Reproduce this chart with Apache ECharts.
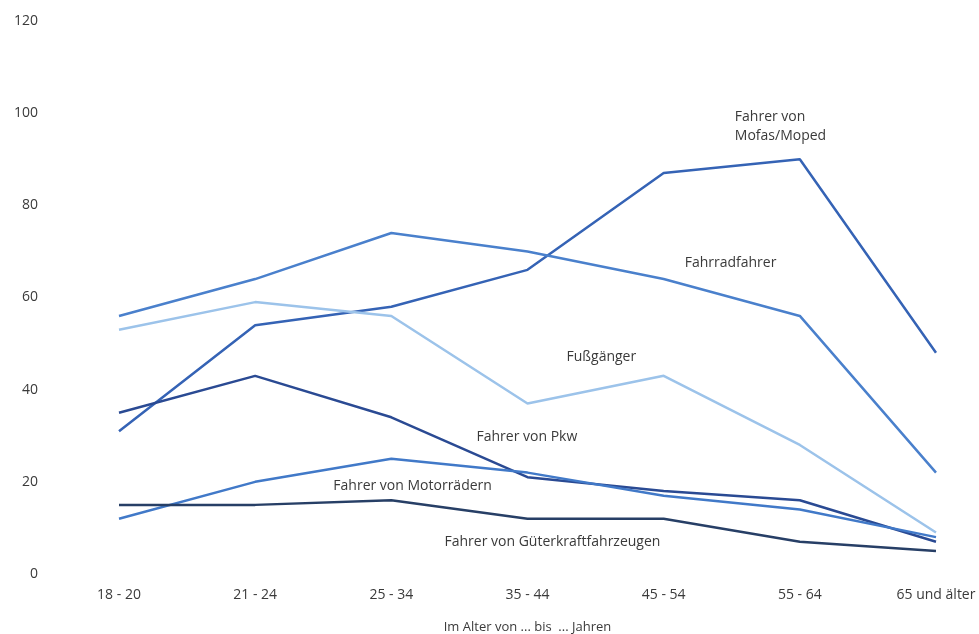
<!DOCTYPE html>
<html>
<head>
<meta charset="utf-8">
<script src="https://cdn.jsdelivr.net/npm/echarts@6/dist/echarts.min.js"></script>
<style>
  html, body { margin: 0; padding: 0; background: #fff; }
  #chart { width: 979px; height: 634px; }
</style>
</head>
<body>
<div id="chart"></div>
<script>
// Age groups on the x axis
const ageGroups = ['18 - 20', '21 - 24', '25 - 34', '35 - 44', '45 - 54', '55 - 64', '65 und älter'];
const xAxisTitle = 'Im Alter von ... bis  ... Jahren';

// Values per road-user group
const mofaMoped = [31, 54, 58, 66, 87, 90, 48];
const fahrrad = [56, 64, 74, 70, 64, 56, 22];
const fussgaenger = [53, 59, 56, 37, 43, 28, 9];
const pkw = [35, 43, 34, 21, 18, 16, 7];
const motorrad = [12, 20, 25, 22, 17, 14, 8];
const gueterkraft = [15, 15, 16, 12, 12, 7, 5];

const FONT = '"Open Sans", "Noto Sans", sans-serif';
const TEXT = '#3a3a3a';

// Series definitions with an inline name tag anchored in data space
const seriesDefs = [
  { name: 'Fahrer von\nMofas/Moped', data: mofaMoped, color: '#3563B5', tag: [5, 97, -65] },
  { name: 'Fahrradfahrer', data: fahrrad, color: '#4A80CC', tag: [4, 67.5, 21] },
  { name: 'Fußgänger', data: fussgaenger, color: '#9CC3EA', tag: [3, 47, 39] },
  { name: 'Fahrer von Pkw', data: pkw, color: '#2A4A93', tag: [3, 29.7, -51] },
  { name: 'Fahrer von Motorrädern', data: motorrad, color: '#4179C8', tag: [2, 19.1, -58] },
  { name: 'Fahrer von Güterkraftfahrzeugen', data: gueterkraft, color: '#273F66', tag: [3, 6.9, -83] }
];

const chart = echarts.init(document.getElementById('chart'), null, { renderer: 'canvas' });

chart.setOption({
  animation: false,
  backgroundColor: '#ffffff',
  grid: { left: 119, right: 43, top: 21, bottom: 60, containLabel: false, outerBoundsMode: 'none' },
  xAxis: {
    type: 'category',
    data: ageGroups,
    boundaryGap: false,
    name: xAxisTitle,
    nameLocation: 'middle',
    nameGap: 47,
    nameTextStyle: { color: TEXT, fontFamily: FONT, fontSize: 13 },
    axisLine: { show: false },
    axisTick: { show: false },
    axisLabel: { color: TEXT, fontFamily: FONT, fontSize: 14, margin: 14, interval: 0 }
  },
  yAxis: {
    type: 'value',
    min: 0,
    max: 120,
    interval: 20,
    splitLine: { show: false },
    axisLine: { show: false },
    axisTick: { show: false },
    axisLabel: { color: TEXT, fontFamily: FONT, fontSize: 14, margin: 81 }
  },
  series: seriesDefs.map(s => ({
    type: 'line',
    name: s.name,
    data: s.data,
    symbol: 'none',
    lineStyle: { color: s.color, width: 2.5 },
    itemStyle: { color: s.color },
    markPoint: {
      symbol: 'circle',
      symbolSize: 0,
      silent: true,
      data: [{
        coord: [s.tag[0], s.tag[1]],
        label: {
          show: true,
          formatter: s.name,
          position: 'inside',
          offset: [s.tag[2], 0],
          align: 'left',
          verticalAlign: 'middle',
          color: TEXT,
          fontFamily: FONT,
          fontSize: 14,
          lineHeight: 19
        }
      }]
    }
  }))
});
</script>
</body>
</html>
